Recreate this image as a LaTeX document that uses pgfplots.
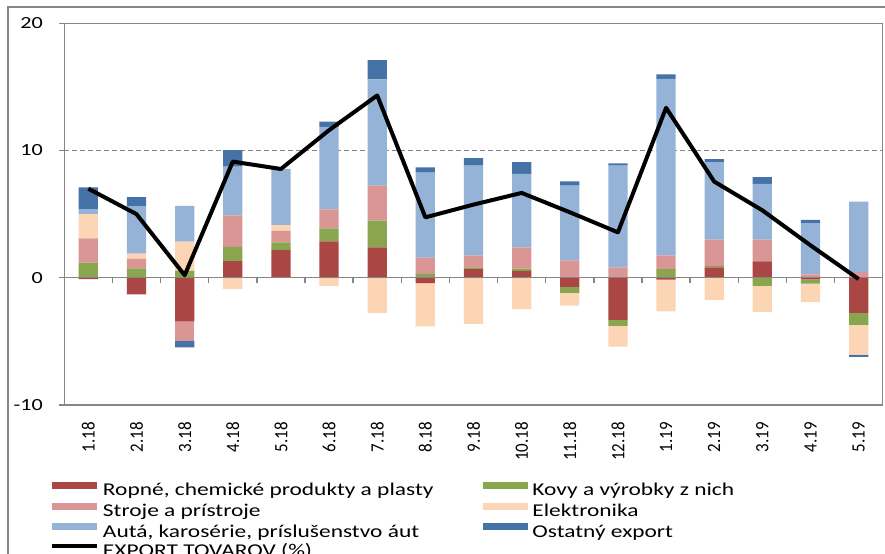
\documentclass[border=0pt]{standalone}
\usepackage{fontspec}
\setmainfont{Carlito}[FakeStretch=1.3]
\newfontfamily\xtickfont{Carlito}[FakeStretch=0.9]
\usepackage{pgfplots}
\pgfplotsset{compat=1.18}
\usepackage{pgfplotstable}

\definecolor{ropne}{RGB}{170,70,67}
\definecolor{kovy}{RGB}{137,165,78}
\definecolor{stroje}{RGB}{217,150,148}
\definecolor{elektro}{RGB}{252,213,181}
\definecolor{auta}{RGB}{149,179,215}
\definecolor{ostatny}{RGB}{69,114,167}
\definecolor{axgray}{RGB}{134,134,134}

\pgfplotstableread{
x p n
0 0 -0.10
1 0 -1.30
2 0 -3.44
3 1.30 0
4 2.18 0
5 2.86 0
6 2.39 0
7 0 -0.42
8 0.68 0
9 0.55 0
10 0 -0.71
11 0 -3.31
12 0 -0.15
13 0.81 0
14 1.28 0
15 0 -0.13
16 0 -2.76
}\ropne
\pgfplotstableread{
x p n
0 1.20 0
1 0.73 0
2 0.55 0
3 1.13 0
4 0.60 0
5 1.02 0
6 2.10 0
7 0.31 0
8 0.13 0
9 0.16 0
10 0 -0.47
11 0 -0.47
12 0.68 0
13 0.13 0
14 0 -0.63
15 0 -0.34
16 0 -0.94
}\kovy
\pgfplotstableread{
x p n
0 1.90 0
1 0.76 0
2 0 -1.50
3 2.47 0
4 0.90 0
5 1.50 0
6 2.76 0
7 1.28 0
8 0.94 0
9 1.68 0
10 1.36 0
11 0.81 0
12 1.08 0
13 2.05 0
14 1.71 0
15 0.26 0
16 0.47 0
}\stroje
\pgfplotstableread{
x p n
0 1.90 0
1 0.40 0
2 2.30 0
3 0 -0.87
4 0.45 0
5 0 -0.63
6 0 -2.76
7 0 -3.41
8 0 -3.62
9 0 -2.47
10 0 -1.00
11 0 -1.63
12 0 -2.49
13 0 -1.73
14 0 -2.05
15 0 -1.44
16 0 -2.34
}\elektro
\pgfplotstableread{
x p n
0 0.40 0
1 3.75 0
2 2.80 0
3 3.83 0
4 4.43 0
5 6.47 0
6 8.35 0
7 6.67 0
8 7.06 0
9 5.77 0
10 5.88 0
11 8.00 0
12 13.88 0
13 6.09 0
14 4.38 0
15 4.04 0
16 5.51 0
}\auta
\pgfplotstableread{
x p n
0 1.70 0
1 0.70 0
2 0 -0.53
3 1.30 0
4 0 0
5 0.42 0
6 1.50 0
7 0.42 0
8 0.60 0
9 0.92 0
10 0.34 0
11 0.18 0
12 0.34 0
13 0.24 0
14 0.55 0
15 0.26 0
16 0 -0.18
}\ostatny
\pgfplotstableread{
x y
0 7.00
1 5.00
2 0.20
3 9.13
4 8.55
5 11.60
6 14.33
7 4.75
8 5.75
9 6.67
10 5.15
11 3.57
12 13.36
13 7.56
14 5.30
15 2.55
16 -0.10
}\export

\pgfplotsset{base/.style={scale only axis, width=409.2pt, height=190.85pt,
  xmin=-0.5, xmax=16.5, ymin=-10, ymax=20, at={(32.15pt,74pt)}, anchor=south west}}

\begin{document}
\begin{tikzpicture}
\useasboundingbox (0pt,0pt) rectangle (442.5pt,276.5pt);
\fill[white] (0pt,0pt) rectangle (442.5pt,276.5pt);
\draw[axgray, line width=0.6pt] (4pt,-5pt) -- (4pt,273pt) -- (460pt,273pt);

\begin{axis}[base, ybar stacked, bar width=0.4,
  axis line style={axgray, line width=0.6pt},
  ytick={-10,0,10,20}, yticklabels={-10,0,10,20}, ytick pos=left,
  tick align=outside, major tick length=2.5pt,
  ytick style={axgray, line width=0.6pt},
  yticklabel style={font=\fontsize{8.5}{10}\selectfont, anchor=east, inner sep=0pt},
  yticklabel shift=8pt,
  ymajorgrids, grid style={axgray, dash pattern=on 2.5pt off 1.5pt, line width=0.5pt},
  xtick={0,...,16},
  xticklabels={1.18,2.18,3.18,4.18,5.18,6.18,7.18,8.18,9.18,10.18,11.18,12.18,1.19,2.19,3.19,4.19,5.19},
  xtick style={draw=none},
  xticklabel style={font=\xtickfont\fontsize{9.4}{10}\selectfont, rotate=90, anchor=east, inner sep=0pt},
  xticklabel shift=6pt,
]
\addplot[fill=ropne, draw=none] table[x=x,y=p]{\ropne};
\addplot[fill=kovy, draw=none] table[x=x,y=p]{\kovy};
\addplot[fill=stroje, draw=none] table[x=x,y=p]{\stroje};
\addplot[fill=elektro, draw=none] table[x=x,y=p]{\elektro};
\addplot[fill=auta, draw=none] table[x=x,y=p]{\auta};
\addplot[fill=ostatny, draw=none] table[x=x,y=p]{\ostatny};
\end{axis}

\begin{axis}[base, hide axis, ybar stacked, bar width=0.4]
\addplot[fill=ropne, draw=none] table[x=x,y=n]{\ropne};
\addplot[fill=kovy, draw=none] table[x=x,y=n]{\kovy};
\addplot[fill=stroje, draw=none] table[x=x,y=n]{\stroje};
\addplot[fill=elektro, draw=none] table[x=x,y=n]{\elektro};
\addplot[fill=auta, draw=none] table[x=x,y=n]{\auta};
\addplot[fill=ostatny, draw=none] table[x=x,y=n]{\ostatny};
\end{axis}

\begin{axis}[base, axis x line*=middle, axis y line=none,
  axis line style={axgray, line width=0.7pt},
  xtick={0.5,1.5,...,15.5}, xticklabels={},
  tick align=outside, major tick length=2.8pt,
  xtick style={axgray, line width=0.7pt},
  legend columns=2, legend cell align=left,
  legend style={draw=none, fill=none, inner sep=0pt, outer sep=0pt,
    row sep=1.6pt, column sep=2pt,
    /tikz/column 2/.style={column sep=25pt},
    nodes={inner sep=0pt, text height=6.3pt, text depth=1.8pt},
    font=\fontsize{9}{10}\selectfont,
    at={(axis description cs:-0.0175,-0.2016)}, anchor=north west},
]
\addlegendimage{fill=ropne, draw=none, legend image code/.code={\fill (0pt,1.2pt) rectangle (22.5pt,4.7pt);}}
\addlegendentry{Ropné, chemické produkty a plasty}
\addlegendimage{fill=kovy, draw=none, legend image code/.code={\fill (0pt,1.2pt) rectangle (22.5pt,4.7pt);}}
\addlegendentry{Kovy a výrobky z nich}
\addlegendimage{fill=stroje, draw=none, legend image code/.code={\fill (0pt,1.2pt) rectangle (22.5pt,4.7pt);}}
\addlegendentry{Stroje a prístroje}
\addlegendimage{fill=elektro, draw=none, legend image code/.code={\fill (0pt,1.2pt) rectangle (22.5pt,4.7pt);}}
\addlegendentry{Elektronika}
\addlegendimage{fill=auta, draw=none, legend image code/.code={\fill (0pt,1.2pt) rectangle (22.5pt,4.7pt);}}
\addlegendentry{Autá, karosérie, príslušenstvo áut}
\addlegendimage{fill=ostatny, draw=none, legend image code/.code={\fill (0pt,1.2pt) rectangle (22.5pt,4.7pt);}}
\addlegendentry{Ostatný export}
\addplot[black, line width=2pt, line join=round, mark=none,
  legend image code/.code={\draw (0pt,2.95pt) -- (22.5pt,2.95pt);}] table[x=x,y=y]{\export};
\addlegendentry{EXPORT TOVAROV (\%)}
\end{axis}
\end{tikzpicture}
\end{document}
